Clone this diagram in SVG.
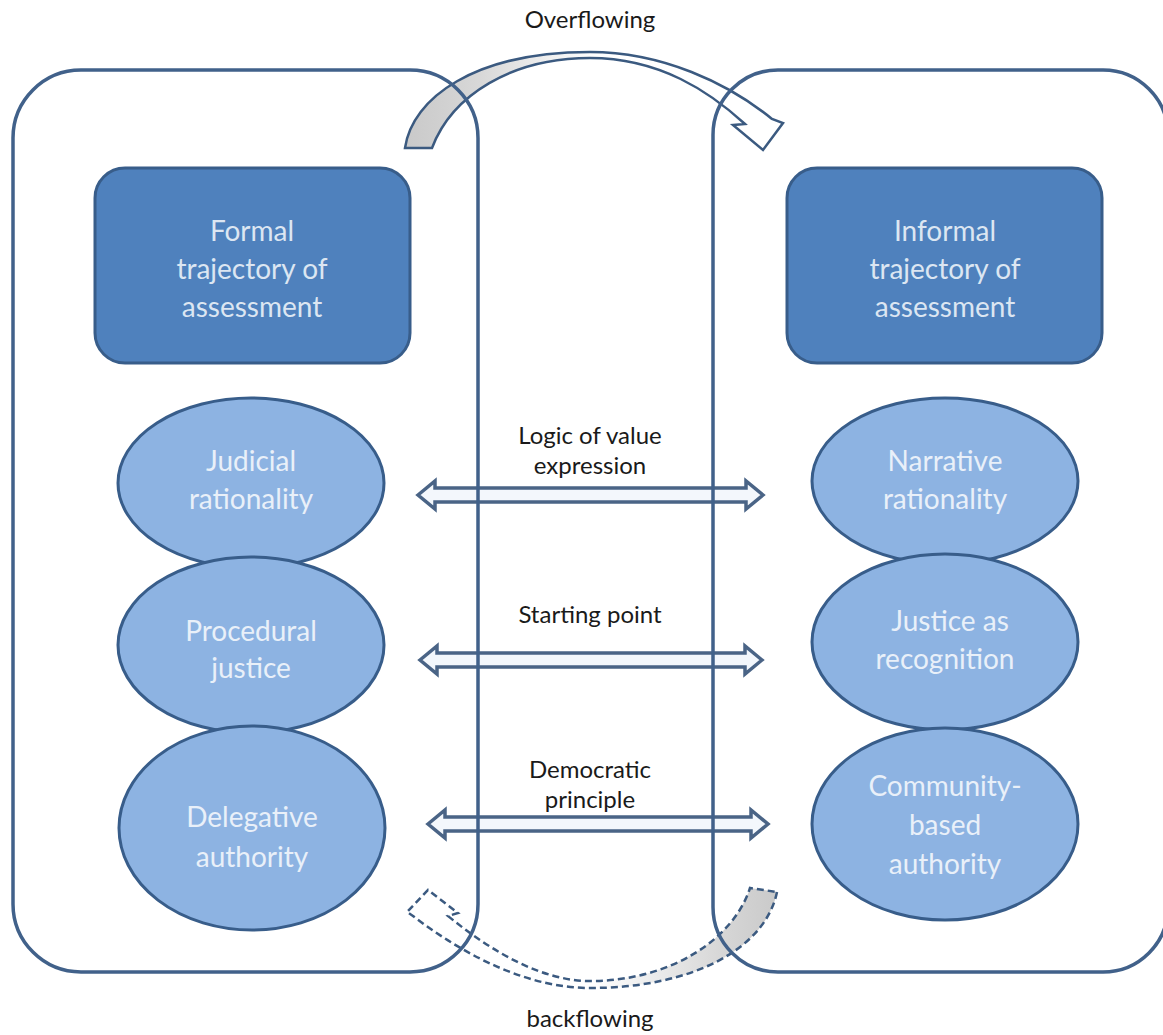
<svg xmlns="http://www.w3.org/2000/svg" width="1163" height="1035" viewBox="0 0 1163 1035">
<defs>
<linearGradient id="gOver" gradientUnits="userSpaceOnUse" x1="405" y1="0" x2="785" y2="0">
<stop offset="0" stop-color="#c9c9c9"/><stop offset="0.2" stop-color="#d8d8d8"/><stop offset="0.5" stop-color="#ffffff"/><stop offset="1" stop-color="#ffffff"/>
</linearGradient>
<linearGradient id="gBack" gradientUnits="userSpaceOnUse" x1="405" y1="0" x2="780" y2="0">
<stop offset="0" stop-color="#ffffff"/><stop offset="0.5" stop-color="#ffffff"/><stop offset="0.85" stop-color="#d6d6d6"/><stop offset="1" stop-color="#c9c9c9"/>
</linearGradient>
<style>
.cont{fill:none;stroke:#41618a;stroke-width:3.5}
.box{fill:#4f81bd;stroke:#385d8a;stroke-width:3}
.ell{fill:#8db3e2;stroke:#385d8a;stroke-width:3}
.t{font-family:Lato,"Liberation Sans",sans-serif;text-anchor:middle}
.bt{font-size:28px;fill:#dce6f2}
.et{font-size:28px;fill:#e9f0f9}
.lt{font-size:24px;fill:#1a1a1a}
.dbl{fill:#f3f7fc;stroke:#4a6486;stroke-width:3.5;stroke-linejoin:miter}
.curv{stroke:#3b5a80;stroke-width:2.5;stroke-linejoin:miter}
</style>
</defs>
<rect width="1163" height="1035" fill="#ffffff"/>
<g id="connectors">
<path id="overflowing-arrow" class="curv" fill="url(#gOver)" d="M405,148 C412,98 475,52 590,52 C662,52 728,83 772,119 L783,123 L763,150 L733,125 L745,124 C710,92 660,58 590,58 C512,58 452,95 432,148 Z"/>
<path id="backflowing-arrow" class="curv" fill="url(#gBack)" stroke-dasharray="7 4" d="M777,892 C765,950 690,988 590,988 C530,988 468,958 413,916 L407,912 L428,890 L458,913 L448,916 C492,952 542,981 590,981 C672,981 734,938 750,888 Z"/>
<path id="arrow-logic" class="dbl" d="M418,495 L435,481 L435,488 L746,488 L746,481 L763,495 L746,509 L746,502 L435,502 L435,509 Z"/>
<path id="arrow-starting" class="dbl" d="M420,660 L437,646 L437,653 L745,653 L745,646 L762,660 L745,674 L745,667 L437,667 L437,674 Z"/>
<path id="arrow-democratic" class="dbl" d="M428,824 L445,810 L445,817 L751,817 L751,810 L768,824 L751,838 L751,831 L445,831 L445,838 Z"/>
</g>
<g id="formal-container"><rect class="cont" x="13" y="70" width="465" height="902" rx="68" ry="68"/></g>
<g id="informal-container"><rect class="cont" x="713" y="70" width="455" height="902" rx="65" ry="65"/></g>
<g id="formal-box">
<rect class="box" x="95" y="168" width="315" height="195" rx="30" ry="30"/>
<text class="t bt" x="252" y="241">Formal</text>
<text class="t bt" x="252" y="279">trajectory of</text>
<text class="t bt" x="252" y="317">assessment</text>
</g>
<g id="informal-box">
<rect class="box" x="787" y="168" width="315" height="195" rx="30" ry="30"/>
<text class="t bt" x="945" y="241">Informal</text>
<text class="t bt" x="945" y="279">trajectory of</text>
<text class="t bt" x="945" y="317">assessment</text>
</g>
<g id="judicial">
<ellipse class="ell" cx="251" cy="483" rx="133" ry="85"/>
<text class="t et" x="251" y="471">Judicial</text>
<text class="t et" x="251" y="509">rationality</text>
</g>
<g id="procedural">
<ellipse class="ell" cx="251" cy="645" rx="133" ry="88"/>
<text class="t et" x="251" y="641">Procedural</text>
<text class="t et" x="251" y="678">justice</text>
</g>
<g id="delegative">
<ellipse class="ell" cx="252" cy="828" rx="133" ry="102"/>
<text class="t et" x="252" y="827">Delegative</text>
<text class="t et" x="252" y="867">authority</text>
</g>
<g id="narrative">
<ellipse class="ell" cx="945" cy="481" rx="133" ry="83"/>
<text class="t et" x="945" y="471">Narrative</text>
<text class="t et" x="945" y="509">rationality</text>
</g>
<g id="justice-recognition">
<ellipse class="ell" cx="945" cy="642" rx="133" ry="88"/>
<text class="t et" x="950" y="631">Justice as</text>
<text class="t et" x="945" y="669">recognition</text>
</g>
<g id="community">
<ellipse class="ell" cx="945" cy="824" rx="133" ry="96"/>
<text class="t et" x="945" y="796">Community-</text>
<text class="t et" x="945" y="835">based</text>
<text class="t et" x="945" y="874">authority</text>
</g>
<g id="labels">
<text class="t lt" x="590" y="28">Overflowing</text>
<text class="t lt" x="590" y="444">Logic of value</text>
<text class="t lt" x="590" y="474">expression</text>
<text class="t lt" x="590" y="623">Starting point</text>
<text class="t lt" x="590" y="778">Democratic</text>
<text class="t lt" x="590" y="808">principle</text>
<text class="t lt" x="590" y="1027">backflowing</text>
</g>
</svg>
